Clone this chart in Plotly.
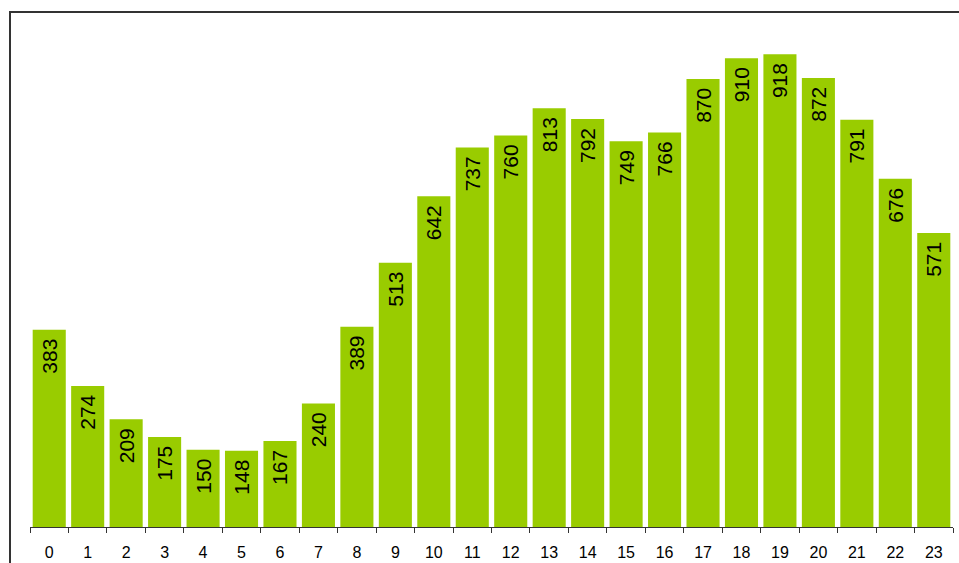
import plotly.graph_objects as go

hours = [str(h) for h in range(24)]
counts = [383, 274, 209, 175, 150, 148, 167, 240, 389, 513, 642, 737,
          760, 813, 792, 749, 766, 870, 910, 918, 872, 791, 676, 571]
labels = [f"{v}\u00a0" for v in counts]

W, H = 959, 563
ml, mr, mt, mb = 30, 6, 12, 36
pw, ph = W - ml - mr, H - mt - mb

fig = go.Figure(go.Bar(
    x=hours, y=counts, text=labels,
    marker=dict(color="#99CC00", line=dict(width=0)),
    textposition="inside", textangle=-90, insidetextanchor="end",
    textfont=dict(family="Liberation Sans, Arial, sans-serif", size=21, color="black"),
    constraintext="none", cliponaxis=False, hoverinfo="skip",
))

fig.update_layout(
    width=W, height=H,
    margin=dict(l=ml, r=mr, t=mt, b=mb, autoexpand=False),
    paper_bgcolor="white", plot_bgcolor="white",
    bargap=0.14, showlegend=False,
    xaxis=dict(type="category", showgrid=False, showline=True, linecolor="#333333", linewidth=1,
               ticks="outside", tickson="boundaries", ticklen=5, tickcolor="#333333",
               ticklabelstandoff=11, automargin=False,
               tickfont=dict(family="Liberation Sans, Arial, sans-serif", size=16, color="black"),
               zeroline=False),
    yaxis=dict(range=[0, 1000], visible=False, showgrid=False, zeroline=False, automargin=False),
    shapes=[dict(type="rect", xref="paper", yref="paper",
                 x0=(10 - ml) / pw, x1=1.1, y0=-0.3, y1=1.0,
                 line=dict(color="#333333", width=2), fillcolor="rgba(0,0,0,0)", layer="above")],
)

fig.write_html(
    "out.html",
    config={"displayModeBar": False},
    post_script=("document.body.style.margin='0';"
                 "document.body.style.overflow='hidden';"
                 "document.documentElement.style.overflow='hidden';"),
)
